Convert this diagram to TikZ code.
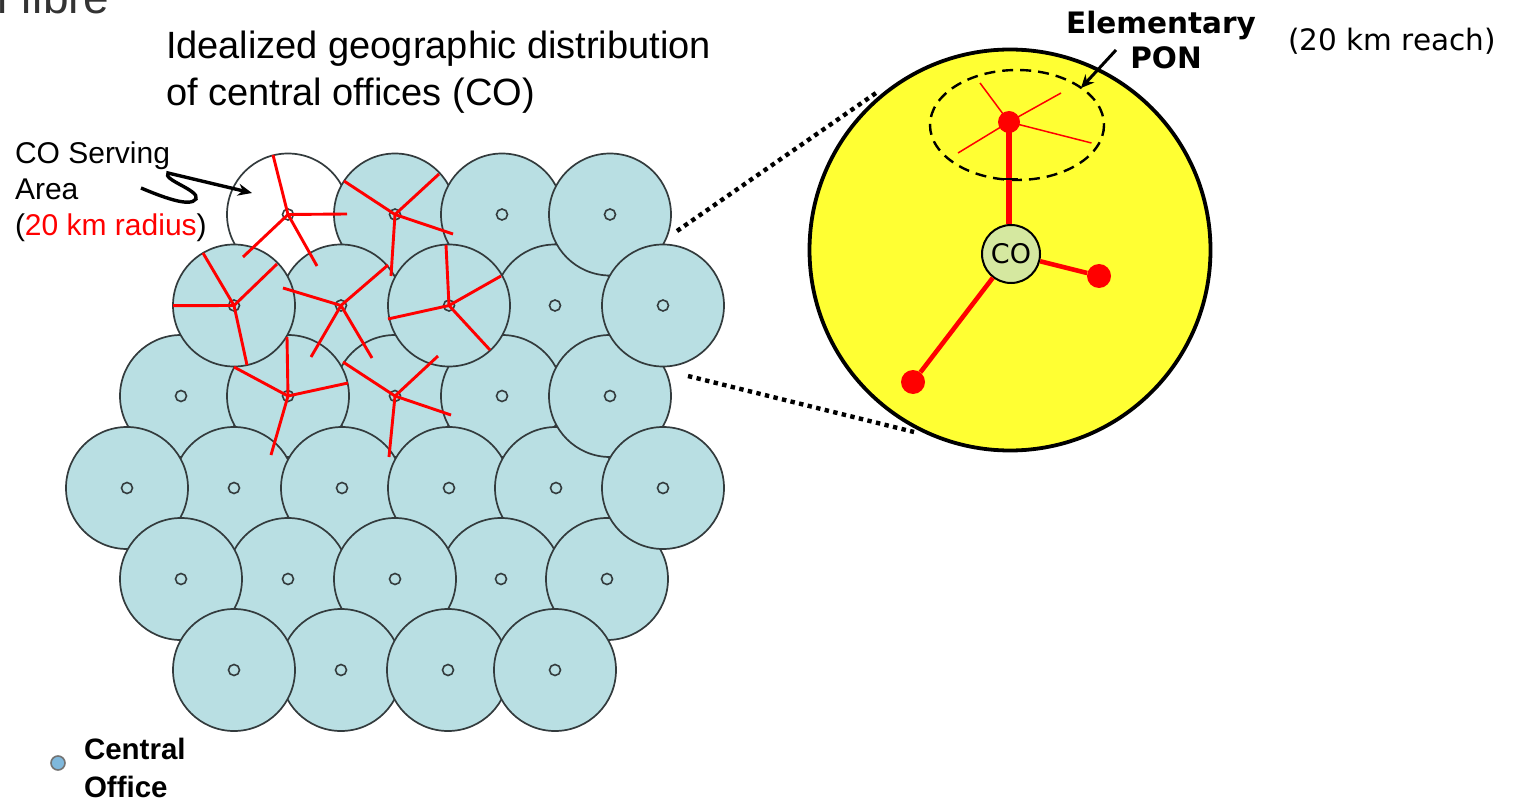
\documentclass[tikz,border=0pt]{standalone}
\usepackage{fontspec}
\setmainfont{Liberation Sans}
\newfontfamily\dv{DejaVu Sans}
\usetikzlibrary{arrows.meta}
\definecolor{cellblue}{HTML}{B9DFE3}
\definecolor{cellline}{HTML}{333B3D}
\definecolor{padyellow}{HTML}{FFFF33}
\definecolor{cogreen}{HTML}{D5E8A0}
\definecolor{legendblue}{HTML}{7FB8DC}
\tikzset{
  cell/.style={circle,draw=cellline,fill=cellblue,line width=1.7pt,minimum size=122pt,inner sep=0pt},
  hub/.style={circle,draw=cellline,fill=cellblue,line width=1.6pt,minimum size=11pt,inner sep=0pt},
  spoke/.style={red,line width=2.9pt},
  thinspoke/.style={red,line width=1.5pt},
  trunk/.style={red,line width=4.6pt},
  rednode/.style={circle,fill=red,minimum size=24pt,inner sep=0pt},
  zoomline/.style={black,line width=4.4pt,dash pattern=on 4.4pt off 4.4pt},
  tx/.style={inner sep=0pt,outer sep=0pt,anchor=base west,text=black},
}
\begin{document}
\begin{tikzpicture}[x=1pt,y=-1pt]
\useasboundingbox (0,0) rectangle (1514,799);
\clip (0,0) rectangle (1514,799);
\node[tx,text=black!80,font=\fontsize{46}{46}\selectfont] (fibre) at (20,13.5) {fibre};
\node[tx,text=black!80,anchor=base east,font=\fontsize{46}{46}\selectfont] (prev) at (8,13.5) {l};
\node[cell,fill=white] (c0) at (288,214.5) {};
\node[hub,fill=white] (hw) at (288,214.5) {};
\foreach \n/\x/\y in {
 t1/395/214.5,t2/502/214.5,m4/555/305.5,t3/610/214.5,m2/341/305.5,
 d1/181/396,d3/395/396,d2/288/396,m1/234/305.5,d4/502/396,
 e2/234/488,e1/127/488,e3/342/488,e4/449/488,e5/556/488,
 f2/288/579,f1/181/579,f4/501/579,f3/395/579,f5/607/579,
 d5/610/396,m3/449/305.5,e6/663/488,m5/663/305.5,
 g1/341/670,g0/234/670,g2/448/670,g3/555/670}{
 \node[cell] (\n) at (\x,\y) {};
 \node[hub] (h\n) at (\x,\y) {};
}
\foreach \n/\h/\x/\y in {
 a1/hw/273/155,a2/hw/347/214,a3/hw/317/266,a4/hw/243/257,
 b1/ht1/344/181,b2/ht1/439/174,b3/ht1/453/234,b4/ht1/391/276,
 s1/hm1/203/253,s2/hm1/277/264,s3/hm1/173/305.7,s4/hm1/247/365,
 u1/hm2/283/288,u2/hm2/388/265,u3/hm2/311/357,u4/hm2/372/358,
 v1/hm3/446/245,v2/hm3/501/276,v3/hm3/388/319,v4/hm3/490/350,
 w1/hd2/287/337,w2/hd2/234/367,w3/hd2/348/383,w4/hd2/271/455,
 k1/hd3/343/362,k2/hd3/438/356,k3/hd3/451/415,k4/hd3/389/457}{
 \coordinate (\n) at (\x,\y);
 \draw[spoke] (\h.center) -- (\n);
}
% zoom lines
\node[circle,draw=black,fill=padyellow,line width=3.8pt,minimum size=401pt,inner sep=0pt] (area) at (1010,250) {};
\coordinate (z1) at (677,231); \coordinate (z2) at (876,93);
\coordinate (z3) at (688,376); \coordinate (z4) at (914,432);
\draw[zoomline] (z1) -- (z2);
\draw[zoomline] (z3) -- (z4);
% elementary PON
\node[circle,fill=red,minimum size=22pt,inner sep=0pt] (olt) at (1009,122) {};
\foreach \n/\x/\y in {p1/980/83,p2/1061/93,p3/1091.5/143,p4/958/153}{
 \coordinate (\n) at (\x,\y);
 \draw[thinspoke] (olt.center) -- (\n);
}
\draw[black,line width=2.4pt,dash pattern=on 11pt off 7pt] (1017,125) ellipse [x radius=87,y radius=55];
\node[rednode] (n1) at (1099,276) {};
\node[rednode] (n2) at (913,382) {};
\node[circle,draw=black,fill=cogreen,line width=2pt,minimum size=58pt,inner sep=0pt,font=\dv\fontsize{27}{27}\selectfont] (co) at (1011,254) {CO};
\draw[trunk,line width=6pt] (olt.center) -- (co.north -| olt.center);
\draw[trunk] (co) -- (n1);
\draw[trunk] (co) -- (n2);
\coordinate (d1) at (1004,179); \coordinate (d2) at (1018,179);
\draw[black,line width=2.4pt] (d1) -- (d2);
% labels
\node[tx,font=\fontsize{38}{38}\selectfont] (title1) at (166,59) {Idealized geographic distribution};
\node[tx,font=\fontsize{38}{38}\selectfont] (title2) at (166,106) {of central offices (CO)};
\node[tx,font=\fontsize{30}{30}\selectfont] (lab1) at (15,164) {CO Serving};
\node[tx,font=\fontsize{30}{30}\selectfont] (lab2) at (15,200) {Area};
\node[tx,font=\fontsize{30}{30}\selectfont] (lab3) at (15,236) {(\textcolor{red}{20 km radius})};
\coordinate (sq) at (141,188);
\coordinate (sqend) at (252,193);
\draw[black,line width=3.4pt,-{Stealth[length=14pt,width=12pt]}] (sq) .. controls (160,196) and (190,208) .. (196,199) .. controls (200,190) and (162,180) .. (168,173) -- (sqend);
\node[anchor=base,inner sep=0pt,font=\dv\bfseries\fontsize{29.5}{29.5}\selectfont] (el) at (1161,34) {Elementary};
\node[anchor=base,inner sep=0pt,font=\dv\bfseries\fontsize{29.5}{29.5}\selectfont] (pon) at (1166,69) {PON};
\node[tx,font=\dv\fontsize{29.5}{29.5}\selectfont] (reach) at (1288,51) {(20 km reach)};
\coordinate (elfrom) at (1116,50);
\coordinate (elto) at (1081,88);
\draw[black,line width=3pt,-{Stealth[length=13pt,width=12pt]}] (elfrom) -- (elto);
\node[circle,draw=black!55,fill=legendblue,line width=1.6pt,minimum size=14pt,inner sep=0pt] (leg) at (58,763) {};
\node[tx,font=\bfseries\fontsize{29.5}{29.5}\selectfont] (leg1) at (84,759) {Central};
\node[tx,font=\bfseries\fontsize{29.5}{29.5}\selectfont] (leg2) at (84,797) {Office};
\end{tikzpicture}
\end{document}
